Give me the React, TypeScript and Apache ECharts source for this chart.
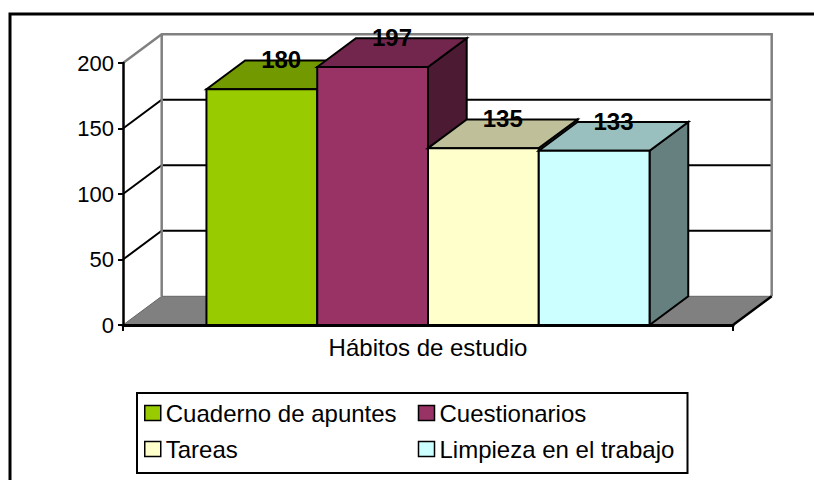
import React, { useEffect, useRef } from "react";
import * as echarts from "echarts";

const categories = ["Hábitos de estudio"];
const seriesNames = ["Cuaderno de apuntes", "Cuestionarios", "Tareas", "Limpieza en el trabajo"];
const seriesValues = [180, 197, 135, 133];
const yTicks = [0, 50, 100, 150, 200];

const frontColors = ["#99CC00", "#993366", "#FFFFCC", "#CCFFFF"];
const topColors = ["#739900", "#73264D", "#BFBF99", "#99BFBF"];
const sideColors = ["#4D6600", "#4D1A33", "#808066", "#668080"];

const DX = 38.7;
const DY = -28.7;
const BAR_FRAC = 0.1816;
const FONT = '"Liberation Sans", Arial, sans-serif';

export default function App() {
  const ref = useRef<HTMLDivElement>(null);
  useEffect(() => {
    if (!ref.current) return;
    const chart = echarts.init(ref.current, null, { renderer: "svg" });

    const wallsSeries: any = {
      type: "custom",
      name: "walls",
      coordinateSystem: "cartesian2d",
      z: 1,
      silent: true,
      encode: { x: 0, y: 1 },
      data: [[0, 0]],
      renderItem: (params: any, api: any) => {
        const cs = params.coordSys;
        const xL = cs.x;
        const xR = cs.x + cs.width;
        const yOf = (v: number) => api.coord([0, v])[1];
        const y0 = yOf(yTicks[0]);
        const yMax = yOf(yTicks[yTicks.length - 1]);
        const children: any[] = [];
        children.push({
          type: "rect",
          shape: { x: xL + DX, y: yMax + DY, width: xR - xL, height: y0 - yMax },
          style: { fill: "#fff", stroke: "none" },
        });
        children.push({
          type: "polygon",
          shape: { points: [[xL, y0], [xL + DX, y0 + DY], [xR + DX, y0 + DY], [xR, y0]] },
          style: { fill: "#808080", stroke: "#666", lineWidth: 1 },
        });
        yTicks.slice(1, -1).forEach((t) => {
          const y = yOf(t);
          children.push({
            type: "polyline",
            shape: { points: [[xL, y], [xL + DX, y + DY], [xR + DX, y + DY]] },
            style: { stroke: "#000", lineWidth: 2, fill: "none" },
          });
        });
        children.push({
          type: "polyline",
          shape: { points: [[xL, yMax], [xL + DX, yMax + DY], [xR + DX, yMax + DY], [xR + DX, y0 + DY]] },
          style: { stroke: "#808080", lineWidth: 2.5, fill: "none" },
        });
        children.push({
          type: "line",
          shape: { x1: xL + DX, y1: yMax + DY, x2: xL + DX, y2: y0 + DY },
          style: { stroke: "#808080", lineWidth: 2.5 },
        });
        children.push({
          type: "line",
          shape: { x1: xR, y1: y0, x2: xR + DX, y2: y0 + DY },
          style: { stroke: "#000", lineWidth: 2.5 },
        });
        return { type: "group", children };
      },
    };

    const barSeries: any[] = seriesNames.map((name, i) => ({
      type: "custom",
      name,
      coordinateSystem: "cartesian2d",
      z: 2,
      encode: { x: 0, y: 1 },
      itemStyle: { color: frontColors[i] },
      data: [[0, seriesValues[i]]],
      renderItem: (params: any, api: any) => {
        const base = api.coord([api.value(0), 0]);
        const top = api.coord([api.value(0), api.value(1)]);
        const band = api.size([1, 0])[0];
        const w = band * BAR_FRAC;
        const xa = base[0] - 2 * w + i * w;
        const xb = xa + w;
        const yb = base[1];
        const yt = top[1];
        const edge = { stroke: "#000", lineWidth: 2, lineJoin: "miter" };
        return {
          type: "group",
          children: [
            {
              type: "polygon",
              shape: { points: [[xb, yt], [xb + DX, yt + DY], [xb + DX, yb + DY], [xb, yb]] },
              style: { fill: sideColors[i], ...edge },
            },
            {
              type: "polygon",
              shape: { points: [[xa, yt], [xa + DX, yt + DY], [xb + DX, yt + DY], [xb, yt]] },
              style: { fill: topColors[i], ...edge },
            },
            {
              type: "rect",
              shape: { x: xa, y: yt, width: w, height: yb - yt },
              style: { fill: frontColors[i], ...edge },
            },
            {
              type: "text",
              style: {
                text: String(api.value(1)),
                x: (xa + xb) / 2 + DX / 2,
                y: yt + DY / 2 - 15,
                fill: "#000",
                font: `bold 24px ${FONT}`,
                align: "center",
                verticalAlign: "middle",
              },
            },
          ],
        };
      },
    }));

    chart.setOption({
      animation: false,
      backgroundColor: "#fff",
      textStyle: { fontFamily: FONT },
      graphic: [
        {
          type: "rect",
          shape: { x: 10, y: 14, width: 900, height: 600 },
          style: { fill: "none", stroke: "#000", lineWidth: 3 },
          z: -1,
        },
      ],
      grid: { left: 123, right: 81, top: 63, bottom: 155, containLabel: false },
      xAxis: {
        type: "category",
        data: categories,
        z: 10,
        axisLine: { show: true, lineStyle: { color: "#000", width: 3 } },
        axisTick: { show: true, length: 6, lineStyle: { color: "#000", width: 2 } },
        axisLabel: { color: "#000", fontSize: 24, fontFamily: FONT, margin: 10, interval: 0 },
        splitLine: { show: false },
      },
      yAxis: {
        type: "value",
        min: 0,
        max: 200,
        interval: 50,
        z: 10,
        axisLine: { show: true, lineStyle: { color: "#000", width: 2.5 } },
        axisTick: { show: true, length: 5, lineStyle: { color: "#000", width: 2 } },
        axisLabel: { color: "#000", fontSize: 22, fontFamily: FONT, margin: 9 },
        splitLine: { show: false },
      },
      legend: {
        left: 137,
        top: 393,
        width: 540,
        orient: "horizontal",
        itemWidth: 16,
        itemHeight: 15,
        itemGap: 10,
        padding: [7, 6, 11, 7],
        borderColor: "#000",
        borderWidth: 2,
        backgroundColor: "#fff",
        textStyle: { fontSize: 24, color: "#000", fontFamily: FONT, width: 242, lineHeight: 26 },
        data: seriesNames.map((name, i) => ({
          name,
          icon: "rect",
          itemStyle: { color: frontColors[i], borderColor: "#000", borderWidth: 1.5 },
        })),
      },
      series: [wallsSeries, ...barSeries],
    });
    return () => chart.dispose();
  }, []);
  return (
    <div
      ref={ref}
      style={{ position: "absolute", left: 0, top: 0, width: 814, height: 480, background: "#fff" }}
    />
  );
}
